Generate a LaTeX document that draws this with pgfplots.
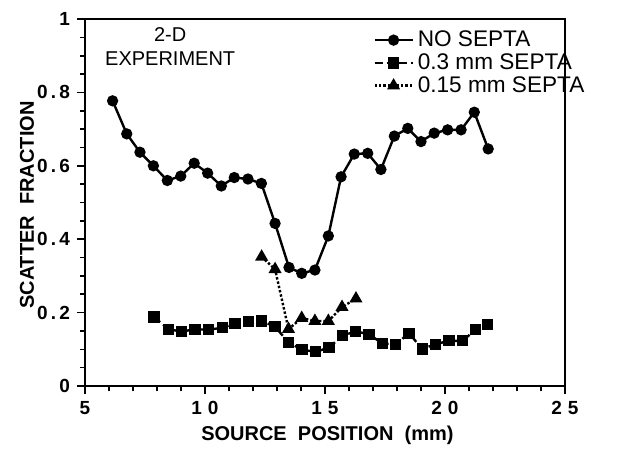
\documentclass[border=0pt]{standalone}
\usepackage{fontspec}
\setmainfont{Liberation Sans}
\usepackage{pgfplots}
\pgfplotsset{compat=1.18}
\begin{document}
\begin{tikzpicture}
\begin{axis}[name=ax, scale only axis, width=240pt, height=183.5pt,
  clip=false, axis lines=box,
  xmin=5, xmax=25, ymin=0, ymax=1,
  xtick={5,10,15,20,25},
  xticklabels={5,1\hspace{3pt}0,1\hspace{3pt}5,2\hspace{3pt}0,2\hspace{3pt}5},
  minor x tick num=4,
  ytick={0,0.2,0.4,0.6,0.8,1},
  yticklabels={0,0\,.\,2,0\,.\,4,0\,.\,6,0\,.\,8,1},
  minor y tick num=3,
  xtick pos=bottom, ytick pos=left, tick align=outside,
  major tick length=4pt, minor tick length=2.5pt,
  axis line style={line width=1pt},
  every tick/.style={black, line width=0.8pt},
  /pgf/number format/assume math mode=true,
  ticklabel style={font=\bfseries\fontsize{9.5}{10}\selectfont},
  every axis x label/.style={at={(axis description cs:0.505,-0.1335)}, anchor=center},
  every axis y label/.style={at={(axis description cs:-0.121,0.493)}, rotate=90, anchor=center},
  label style={font=\bfseries\fontsize{10}{11}\selectfont},
  xlabel={SOURCE\ \ POSITION\ \ (mm)},
  ylabel={SCATTER\ \ FRACTION},
  legend cell align=left,
  legend style={draw=none, fill=none, at={(axis description cs:0.6,0.98)}, anchor=north west,
    font=\fontsize{11.3}{12}\selectfont, row sep=-2pt, inner sep=0pt},
  legend image code/.code={\draw[mark repeat=2, mark phase=2] plot coordinates {(0pt,0pt) (9.5pt,0pt) (19pt,0pt)};},
]
\addplot[black, line width=1.2pt, mark=*, mark size=2.2pt] coordinates {
(6.15,0.777) (6.74,0.687) (7.29,0.637) (7.85,0.600) (8.43,0.560) (8.99,0.572)
(9.55,0.607) (10.11,0.580) (10.68,0.545) (11.22,0.568) (11.79,0.564) (12.35,0.552)
(12.92,0.443) (13.50,0.323) (14.03,0.307) (14.58,0.316) (15.14,0.409) (15.67,0.570)
(16.22,0.632) (16.78,0.634) (17.33,0.590) (17.89,0.681) (18.45,0.702) (19.00,0.666)
(19.55,0.689) (20.11,0.698) (20.67,0.698) (21.22,0.746) (21.80,0.646)
};
\addlegendentry{NO SEPTA}
\addplot[black, line width=1.2pt, dash pattern=on 4pt off 2pt, mark=square*, mark size=2.2pt, mark options={solid}] coordinates {
(7.875,0.188) (8.47,0.155) (9.03,0.148) (9.58,0.155) (10.14,0.153) (10.72,0.159)
(11.25,0.170) (11.80,0.175) (12.36,0.177) (12.92,0.162) (13.47,0.119) (14.04,0.099)
(14.61,0.093) (15.17,0.105) (15.72,0.137) (16.28,0.149) (16.83,0.141) (17.39,0.116)
(17.95,0.113) (18.50,0.144) (19.05,0.101) (19.61,0.114) (20.17,0.123) (20.72,0.123)
(21.28,0.153) (21.77,0.168)
};
\addlegendentry{0.3 mm SEPTA}
\addplot[black, line width=1.2pt, densely dotted, mark=triangle*, mark size=2.6pt, mark options={solid}] coordinates {
(12.36,0.352) (12.92,0.318) (13.48,0.155) (14.03,0.185) (14.58,0.177) (15.14,0.177)
(15.71,0.215) (16.29,0.238)
};
\addlegendentry{0.15 mm SEPTA}
\node[align=center, font=\fontsize{10}{12}\selectfont] at (axis cs:8.55,0.925) {2-D\\EXPERIMENT};
\draw[black, line width=1pt] (axis cs:5,1) -- (axis cs:25,1) -- (axis cs:25,0);
\end{axis}
\path (ax.south west) ++(-42.5pt,-30.5pt) rectangle ++(322pt,223.5pt);
\end{tikzpicture}
\end{document}
